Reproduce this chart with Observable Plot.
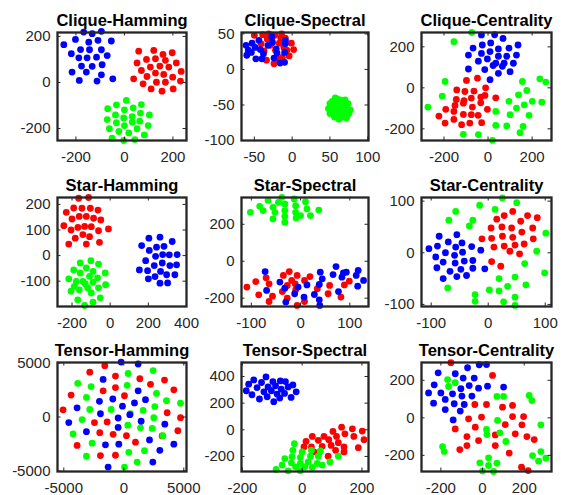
<!DOCTYPE html>
<html><head><meta charset="utf-8">
<script src="https://cdn.jsdelivr.net/npm/d3@7"></script>
<script src="https://cdn.jsdelivr.net/npm/@observablehq/plot@0.6"></script>
<style>
body{margin:0;background:#fff;}
#chart{position:relative;width:562px;height:495px;background:#fff;overflow:hidden;}
#chart svg{position:absolute;max-width:none;}
</style></head><body><div id="chart"></div>
<script>
// ---- Clique-Hamming ----
const cliqueHammingRed = [[59,136],[121,139],[159,122],[197,129],[52,85],[91,100],[128,103],[169,96],[214,85],[70,52],[107,67],[146,71],[183,67],[93,26],[128,41],[162,35],[199,23],[234,48],[38,16],[77,-6],[132,1],[169,1],[231,6],[110,-28],[155,-38],[201,-28]];
const cliqueHammingGreen = [[8,-78],[-33,-97],[-69,-114],[0,-119],[36,-110],[70,-96],[-37,-141],[-3,-154],[32,-148],[66,-133],[103,-141],[-71,-161],[-33,-175],[0,-187],[32,-172],[63,-168],[98,-187],[-62,-201],[-23,-213],[18,-219],[52,-201],[82,-228],[-51,-242],[-3,-252],[43,-248]];
const cliqueHammingBlue = [[-250,164],[-202,187],[-168,219],[-133,212],[-95,222],[-147,175],[-109,183],[-54,180],[-219,125],[-181,143],[-144,142],[-95,142],[-188,107],[-154,107],[-115,110],[-71,117],[-177,71],[-133,70],[-92,77],[-216,45],[-157,45],[-95,33],[-186,9],[-113,6],[-48,16]];
// ---- Clique-Spectral ----
const cliqueSpectralRed = [[-50,48],[-39,49],[-31,50],[-23,48],[-14,50],[-9,44],[-1,37],[2,28],[-4,19],[-13,17],[-24,8],[-34,13],[-37,26],[-29,34],[-22,27],[-17,37],[-11,31],[-27,42],[-41,36],[-7,27],[-20,15],[-15,44],[-33,43]];
const cliqueSpectralGreen = [[62,-55],[55,-50],[68,-50],[58,-60],[66,-60],[52,-56],[72,-56],[60,-45],[64,-66],[56,-67],[68,-67],[50,-48],[74,-48],[60,-42],[57,-40],[70,-43],[50,-62],[75,-62],[62,-70],[54,-52],[70,-54],[64,-49],[58,-58],[66,-64],[48,-55],[77,-57],[60,-63],[64,-43],[53,-45],[72,-68]];
const cliqueSpectralBlue = [[-61,34],[-60,20],[-53,37],[-54,24],[-48,15],[-42,28],[-44,41],[-38,22],[-32,34],[-26,38],[-27,46],[-21,29],[-20,23],[-24,16],[-16,9],[-10,10],[-10,24],[-9,41],[-9,36],[-40,15],[-58,27],[-49,31]];
// ---- Clique-Centrality ----
const cliqueCentralityRed = [[-98,36],[-48,47],[-11,0],[-142,-10],[-105,-18],[-64,-16],[-14,-37],[35,-49],[-144,-57],[-109,-62],[-76,-50],[-33,-45],[-192,-105],[-150,-86],[-112,-75],[-71,-94],[-33,-73],[-3,-105],[-223,-138],[-155,-115],[-112,-130],[-76,-131],[-45,-134],[-195,-172],[-155,-154],[-120,-180],[-83,-172],[-29,-170]];
const cliqueCentralityGreen = [[-74,270],[-155,225],[-195,31],[-208,-40],[-273,-94],[156,31],[235,44],[262,28],[176,-13],[138,-34],[95,-66],[164,-83],[201,-66],[244,-70],[129,-99],[35,-115],[100,-131],[186,-134],[35,-183],[85,-186],[159,-188],[145,-219],[-112,-227],[-44,-228],[20,-256]];
const cliqueCentralityBlue = [[-30,258],[30,259],[68,241],[-68,194],[-26,209],[12,219],[47,190],[95,194],[136,209],[-89,160],[-30,168],[9,177],[47,154],[85,154],[129,160],[-44,130],[-3,141],[35,120],[73,120],[115,120],[-89,92],[-15,89],[23,109],[65,105],[47,71],[100,79],[9,40]];
// ---- Star-Hamming ----
const starHammingRed = [[-165,224],[-113,227],[-230,169],[-191,186],[-148,185],[-104,185],[-64,178],[-200,143],[-162,153],[-125,153],[-87,146],[-49,139],[-243,117],[-205,100],[-169,110],[-134,114],[-99,113],[-61,97],[-9,104],[-143,82],[-108,74],[-183,68],[-217,45],[-125,45],[-56,52]];
const starHammingGreen = [[-157,-29],[-101,-20],[-191,-56],[-125,-48],[-61,-33],[-157,-68],[-90,-62],[-26,-68],[-217,-91],[-177,-101],[-143,-101],[-108,-81],[-66,-87],[-188,-120],[-130,-111],[-90,-104],[-24,-114],[-205,-139],[-162,-134],[-118,-126],[-61,-126],[-99,-146],[-170,-173],[-52,-165],[-134,-195],[-90,-182]];
const starHammingBlue = [[203,68],[261,72],[165,39],[205,20],[243,33],[282,36],[325,55],[238,-3],[275,4],[310,3],[351,4],[186,-20],[231,-39],[273,-29],[313,-39],[348,-36],[153,-56],[196,-59],[235,-82],[264,-62],[296,-75],[339,-75],[200,-91],[261,-108],[301,-107]];
// ---- Star-Spectral ----
const starSpectralRed = [[-109,-140],[-91,-110],[-85,-182],[-70,-90],[-64,-122],[-57,-189],[-64,-218],[-35,-77],[-23,-56],[-37,-164],[-27,-200],[-18,-104],[-11,-122],[-7,-77],[-10,-155],[8,-104],[19,-83],[8,-218],[34,-149],[56,-176],[59,-131],[82,-194],[89,-128],[99,-108],[-27,-131],[-7,-239]];
const starSpectralGreen = [[-102,265],[-83,297],[-76,274],[-66,329],[-56,292],[-52,265],[-56,229],[-38,346],[-32,310],[-32,274],[-32,243],[-32,211],[-13,337],[-10,301],[-10,265],[-9,234],[10,322],[13,283],[20,247],[37,277],[0,247],[-45,319]];
const starSpectralBlue = [[-72,-56],[-69,-158],[-42,-113],[-32,-146],[-30,-221],[-12,-176],[-5,-140],[7,-194],[13,-128],[28,-180],[38,-209],[40,-59],[44,-95],[38,-126],[66,-72],[72,-29],[84,-86],[87,-63],[77,-164],[93,-59],[113,-77],[117,-50],[116,-135],[128,-104],[39,-239]];
// ---- Star-Centrality ----
const starCentralityRed = [[-11,27],[5,48],[15,65],[28,72],[43,80],[24,50],[41,48],[57,61],[69,72],[86,68],[6,28],[25,32],[43,30],[59,40],[78,48],[10,11],[28,13],[47,15],[63,17],[79,27],[38,3],[55,-2],[6,-17],[22,-26]];
const starCentralityGreen = [[25,106],[50,97],[-15,92],[12,84],[-57,80],[-69,63],[-27,63],[-33,52],[101,38],[85,3],[64,-21],[99,-39],[19,-50],[47,-47],[66,-62],[34,-65],[2,-72],[19,-74],[-71,-68],[-23,-81],[47,-86],[-23,-94],[27,-95],[47,-102]];
const starCentralityBlue = [[-104,8],[-86,32],[-89,13],[-92,-8],[-90,-29],[-79,-18],[-75,0],[-70,21],[-67,-36],[-79,-50],[-59,-5],[-58,-20],[-57,11],[-55,35],[-55,-46],[-46,19],[-45,1],[-42,-16],[-48,-32],[-38,-44],[-27,-30],[-29,12],[-27,-15],[-13,5],[-6,-31]];
// ---- Tensor-Hamming ----
const tensorHammingRed = [[-1585,4757],[-2836,4151],[-695,3788],[1334,3545],[3392,3424],[-4392,2030],[-1724,2424],[-695,2727],[2224,3030],[4170,2515],[56,1970],[-5060,667],[-1390,-455],[-2446,-515],[3614,394],[4726,-61],[-2002,-1454],[-890,-1606],[222,-1727],[3197,-1757],[4504,-1273],[-3892,-2636],[973,-2333],[-1946,-3575],[-695,-3545]];
const tensorHammingGreen = [[2446,4303],[361,4030],[-3836,3121],[-2724,2818],[278,2939],[-3114,1818],[2724,2182],[3558,1515],[4726,1273],[-2836,697],[-1056,697],[556,303],[1612,606],[2585,970],[-3475,-242],[2502,-61],[1390,-1000],[-4226,-1576],[2363,-1061],[334,-758],[-2641,-2424],[3253,-1727],[417,-3272],[1723,-3121],[-3114,-3636],[1112,-4181],[56,-4636]];
const tensorHammingBlue = [[-222,5090],[1195,4909],[-1724,3485],[1195,2424],[-2029,1454],[-917,1667],[1807,1606],[890,1303],[-3892,848],[-1946,303],[-111,1000],[500,212],[-4587,-515],[-473,-91],[1446,-394],[3419,-667],[-3114,-1364],[-473,-970],[2141,-2121],[4170,-2515],[-1529,-2576],[-417,-2515],[3002,-3091],[-1307,-4636],[2419,-4181]];
// ---- Tensor-Spectral ----
const tensorSpectralRed = [[34,-50],[13,-87],[6,-129],[31,-129],[54,-79],[73,-50],[39,-166],[67,-124],[89,-74],[103,-12],[132,20],[168,7],[201,-10],[97,-117],[115,-50],[143,-30],[173,-50],[207,-74],[121,-97],[140,-129],[112,-154],[140,-166],[188,-134],[87,-198],[56,-174]];
const tensorSpectralGreen = [[-26,-104],[-31,-154],[0,-166],[31,-154],[61,-159],[-58,-216],[-34,-203],[-6,-208],[28,-198],[54,-198],[-67,-265],[-36,-248],[-6,-253],[20,-241],[50,-253],[93,-241],[121,-198],[-87,-298],[-47,-308],[-6,-308],[34,-283],[67,-265],[-22,-278],[9,-278]];
const tensorSpectralBlue = [[-187,293],[-162,374],[-179,342],[-168,263],[-143,231],[-151,317],[-136,355],[-121,397],[-128,285],[-114,322],[-98,362],[-117,248],[-95,211],[-103,293],[-89,330],[-73,367],[-84,268],[-70,305],[-56,362],[-75,238],[-59,273],[-47,322],[-37,243],[-31,337],[-20,285]];
// ---- Tensor-Centrality ----
const tensorCentralityRed = [[-152,294],[48,226],[-37,71],[19,71],[144,66],[197,7],[-67,-5],[-5,4],[144,7],[-131,-59],[-35,-50],[109,-36],[189,-37],[-75,-100],[-19,-121],[61,-91],[157,-85],[213,-100],[248,-116],[-109,-169],[-75,-148],[61,-148],[128,-188],[187,-263],[219,-281],[96,57]];
const tensorCentralityGreen = [[-168,204],[-131,187],[-163,167],[69,114],[101,114],[224,119],[237,92],[72,-14],[280,-37],[19,-62],[21,-89],[83,-80],[112,-126],[-192,-153],[-184,-180],[240,-201],[280,-180],[269,-231],[304,-215],[29,-213],[-13,-240],[29,-254],[69,-242],[0,-284],[53,-286]];
const tensorCentralityBlue = [[-213,240],[-16,283],[19,284],[-232,176],[-131,235],[-72,267],[-40,212],[-93,212],[-259,133],[-200,133],[-144,128],[-104,155],[-64,172],[-19,158],[24,169],[-179,98],[-136,75],[-99,116],[-51,116],[-235,78],[-88,71],[-179,44],[-107,36],[-141,-11],[101,164]];

// titles, axis limits and tick values
const titles = ["Clique-Hamming","Clique-Spectral","Clique-Centrality","Star-Hamming","Star-Spectral","Star-Centrality","Tensor-Hamming","Tensor-Spectral","Tensor-Centrality"];
const xDomains = [[-276,256],[-67,101],[-302,288],[-276,400],[-120,138],[-117,111],[-5525,5225],[-203,222],[-293,331]];
const yDomains = [[-252,217],[-100,52],[-257,270],[-199,227],[-245,345],[-104,107],[-5050,5050],[-313,505],[-286,295]];
const xTickValues = [[-200,0,200],[-50,0,50,100],[-200,0,200],[-200,0,200,400],[-100,0,100],[-100,0,100],[-5000,0,5000],[-200,0,200],[-200,0,200]];
const yTickValues = [[-200,0,200],[-100,-50,0,50],[-200,0,200],[-100,0,100,200],[-200,0,200],[-100,0,100],[-5000,0,5000],[-200,0,200,400],[-200,0,200]];
const reds = [cliqueHammingRed,cliqueSpectralRed,cliqueCentralityRed,starHammingRed,starSpectralRed,starCentralityRed,tensorHammingRed,tensorSpectralRed,tensorCentralityRed];
const greens = [cliqueHammingGreen,cliqueSpectralGreen,cliqueCentralityGreen,starHammingGreen,starSpectralGreen,starCentralityGreen,tensorHammingGreen,tensorSpectralGreen,tensorCentralityGreen];
const blues = [cliqueHammingBlue,cliqueSpectralBlue,cliqueCentralityBlue,starHammingBlue,starSpectralBlue,starCentralityBlue,tensorHammingBlue,tensorSpectralBlue,tensorCentralityBlue];

// layout (pixels)
const colLeft = [57,241,421], colRight = [186,368,551];
const rowTop = [32,197,362], rowBottom = [140,306,471];
const ML = 60, MR = 25, MT = 32, MB = 32;
const AX = "#262626";
const fmt = d => String(d);
const chart = document.getElementById("chart");

for (let i = 0; i < 9; i++) {
  const col = i % 3, row = Math.floor(i / 3);
  const bw = colRight[col] - colLeft[col], bh = rowBottom[row] - rowTop[row];
  const xt = xTickValues[i], yt = yTickValues[i];
  const dot = (arr, color) => Plot.dot(arr, {x: d => d[0], y: d => d[1], r: 3.4, fill: color});
  const svg = Plot.plot({
    width: bw + ML + MR, height: bh + MT + MB,
    marginLeft: ML, marginRight: MR, marginTop: MT, marginBottom: MB,
    style: {fontFamily: "'Liberation Sans', Arial, Helvetica, sans-serif", fontSize: "15px", color: AX, background: "transparent", overflow: "visible"},
    x: {domain: xDomains[i]},
    y: {domain: yDomains[i]},
    marks: [
      dot(reds[i], "#ff0000"),
      dot(greens[i], "#00ff00"),
      dot(blues[i], "#0000ff"),
      Plot.ruleX(xt, {x: d => d, insetTop: bh - 3.5, stroke: AX}),
      Plot.ruleX(xt, {x: d => d, insetBottom: bh - 3.5, stroke: AX}),
      Plot.ruleY(yt, {y: d => d, insetRight: bw - 3.5, stroke: AX}),
      Plot.ruleY(yt, {y: d => d, insetLeft: bw - 3.5, stroke: AX}),
      Plot.frame({stroke: AX, strokeWidth: 2.3}),
      Plot.axisX({ticks: xt, tickSize: 0, tickPadding: 11, tickFormat: fmt, label: null}),
      Plot.axisY({ticks: yt, tickSize: 0, tickPadding: 7, tickFormat: fmt, label: null}),
      Plot.text([titles[i]], {frameAnchor: "top", lineAnchor: "bottom", dy: -6.5, text: d => d, fontWeight: "bold", fontSize: 16.5, fill: "#000"})
    ]
  });
  svg.style.left = (colLeft[col] - ML) + "px";
  svg.style.top = (rowTop[row] - MT) + "px";
  chart.appendChild(svg);
}
</script></body></html>
